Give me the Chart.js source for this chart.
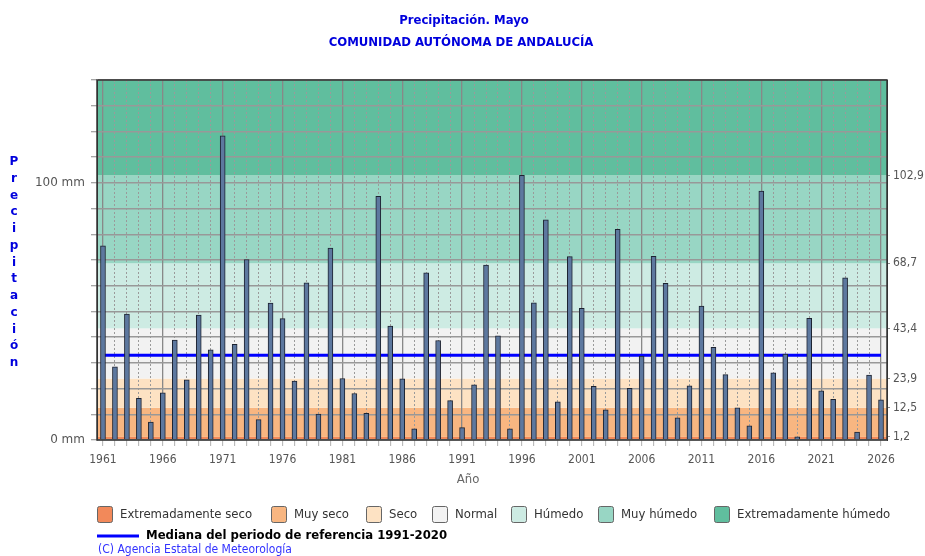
<!DOCTYPE html>
<html>
<head>
<meta charset="utf-8">
<script src="https://cdn.jsdelivr.net/npm/chart.js@4"></script>
<style>
  html, body { margin: 0; background: #fff; }
</style>
</head>
<body>
<canvas id="chart" width="925" height="556"></canvas>
<script>
// Datos: precipitación de mayo, Andalucía (mm)
const years = [1961, 1962, 1963, 1964, 1965, 1966, 1967, 1968, 1969, 1970,
  1971, 1972, 1973, 1974, 1975, 1976, 1977, 1978, 1979, 1980,
  1981, 1982, 1983, 1984, 1985, 1986, 1987, 1988, 1989, 1990,
  1991, 1992, 1993, 1994, 1995, 1996, 1997, 1998, 1999, 2000,
  2001, 2002, 2003, 2004, 2005, 2006, 2007, 2008, 2009, 2010,
  2011, 2012, 2013, 2014, 2015, 2016, 2017, 2018, 2019, 2020,
  2021, 2022, 2023, 2024, 2025, 2026];
const precip = [75.5, 28.5, 49.0, 16.2, 7.0, 18.3, 38.9, 23.4, 48.6, 35.1,
  118.3, 37.2, 70.2, 7.9, 53.2, 47.2, 22.9, 61.1, 10.1, 74.6,
  23.9, 18.1, 10.4, 94.8, 44.3, 23.8, 4.3, 65.0, 38.7, 15.3,
  4.8, 21.5, 68.0, 40.5, 4.3, 102.9, 53.3, 85.6, 14.8, 71.3,
  51.2, 20.9, 11.7, 81.9, 20.1, 32.6, 71.4, 60.9, 8.6, 21.1,
  52.1, 36.0, 25.4, 12.5, 5.5, 96.8, 26.1, 33.4, 1.2, 47.3,
  19.1, 15.8, 63.1, 3.1, 25.2, 15.6];
const median = 33.0;
const thresholds = [1.2, 12.5, 23.9, 43.4, 68.7, 102.9];
const categories = ["Extremadamente seco", "Muy seco", "Seco", "Normal", "Húmedo", "Muy húmedo", "Extremadamente húmedo"];
const catColors = ["#f2895a", "#f8b681", "#fde2c3", "#f2f2f2", "#cdebe3", "#98d6c4", "#60be9e"];
const xTicks = [1961, 1966, 1971, 1976, 1981, 1986, 1991, 1996, 2001, 2006, 2011, 2016, 2021, 2026];

const yMax = 140;
const fontNarrow = "'Liberation Sans Narrow', 'DejaVu Sans Condensed', sans-serif";

// fondo por categorias, rejilla encima
const bandsPlugin = {
  id: "bands",
  beforeDraw(chart) {
    const { ctx, chartArea: a, scales } = chart;
    ctx.save();
    ctx.fillStyle = "#fff";
    ctx.fillRect(0, 0, chart.width, chart.height);
    const limits = [0, ...thresholds, yMax];
    for (let i = 0; i < catColors.length; i++) {
      const y0 = scales.y.getPixelForValue(limits[i]);
      const y1 = scales.y.getPixelForValue(limits[i + 1]);
      ctx.fillStyle = catColors[i];
      ctx.fillRect(a.left, y1, a.right - a.left, y0 - y1);
    }
    ctx.restore();
  },
  afterDraw(chart) {
    const { ctx, chartArea: a } = chart;
    ctx.save();
    // marco
    ctx.strokeStyle = "#333";
    ctx.lineWidth = 1.5;
    ctx.strokeRect(a.left, a.top, a.right - a.left, a.bottom - a.top);

    // titulos
    ctx.fillStyle = "#0000dd";
    ctx.textAlign = "center";
    ctx.textBaseline = "middle";
    ctx.font = "bold 13px " + fontNarrow;
    ctx.fillText("Precipitación. Mayo", 464, 21);
    ctx.fillText("COMUNIDAD AUTÓNOMA DE ANDALUCÍA", 461, 43);

    // titulo eje y en vertical, letra a letra
    ctx.font = "bold 12px 'DejaVu Sans', sans-serif";
    const word = "Precipitación";
    for (let i = 0; i < word.length; i++) {
      ctx.fillText(word[i], 14, 162 + i * 16.75);
    }

    // titulo eje x
    ctx.fillStyle = "#666";
    ctx.font = "13px " + fontNarrow;
    ctx.fillText("Año", 468, 480);

    // leyenda
    const boxX = [97, 271, 366, 432, 511, 598, 714];
    ctx.textAlign = "left";
    ctx.font = "13px " + fontNarrow;
    for (let i = 0; i < categories.length; i++) {
      ctx.fillStyle = catColors[i];
      ctx.strokeStyle = "#666";
      ctx.lineWidth = 1;
      ctx.beginPath();
      ctx.roundRect(boxX[i] + 0.5, 506.5, 15, 16, 2);
      ctx.fill();
      ctx.stroke();
      ctx.fillStyle = "#333";
      ctx.fillText(categories[i], boxX[i] + 23, 515);
    }
    ctx.strokeStyle = "#0000ff";
    ctx.lineWidth = 3;
    ctx.beginPath();
    ctx.moveTo(97, 536);
    ctx.lineTo(139, 536);
    ctx.stroke();
    ctx.fillStyle = "#000";
    ctx.font = "bold 13px " + fontNarrow;
    ctx.fillText("Mediana del periodo de referencia 1991-2020", 146, 536);
    ctx.fillStyle = "#3333ff";
    ctx.font = "12px " + fontNarrow;
    ctx.fillText("(C) Agencia Estatal de Meteorología", 98, 550);
    ctx.restore();
  }
};

const allYearTicks = (scale) => {
  scale.ticks = years.map(v => ({ value: v }));
};

new Chart(document.getElementById("chart"), {
  type: "bar",
  data: {
    datasets: [
      {
        type: "line",
        label: "Mediana del periodo de referencia 1991-2020",
        data: [{ x: years[0], y: median }, { x: years[years.length - 1], y: median }],
        borderColor: "#0000ff",
        borderWidth: 3,
        pointRadius: 0,
        order: 1
      },
      {
        type: "bar",
        label: "Precipitación",
        data: years.map((y, i) => ({ x: y, y: precip[i] })),
        backgroundColor: "#5d789f",
        borderColor: "#1c2230",
        borderWidth: 1,
        barThickness: 5,
        order: 0
      }
    ]
  },
  plugins: [bandsPlugin],
  options: {
    responsive: false,
    animation: false,
    layout: { padding: { top: 80, left: 0, right: 0, bottom: 0 } },
    plugins: {
      legend: { display: false },
      tooltip: { enabled: false }
    },
    scales: {
      x: {
        type: "linear",
        min: 1960.5,
        max: 2026.5,
        offset: false,
        weight: 1,
        afterBuildTicks: allYearTicks,
        afterFit: s => { s.height = 116; },
        grid: {
          color: c => (c.tick && (c.tick.value - 1961) % 5 === 0 ? "#888" : "rgba(0,0,0,0)"),
          lineWidth: 1.3,
          tickColor: "#b0b0b0",
          tickWidth: 1,
          tickLength: 6,
          offset: false
        },
        border: { display: false },
        ticks: {
          autoSkip: false,
          maxRotation: 0,
          padding: 7,
          color: "#555",
          font: { size: 12, family: fontNarrow },
          callback: v => (xTicks.includes(v) ? String(v) : "")
        }
      },
      x2: {
        type: "linear",
        position: "bottom",
        min: 1960.5,
        max: 2026.5,
        offset: false,
        weight: 0,
        afterBuildTicks: allYearTicks,
        afterFit: s => { s.height = 0; },
        grid: {
          color: c => (c.tick && (c.tick.value - 1961) % 5 === 0 ? "rgba(0,0,0,0)" : "#9a9a9a"),
          drawTicks: false,
          offset: false
        },
        border: { display: false, dash: [2, 2] },
        ticks: { display: false }
      },
      y: {
        min: 0,
        max: yMax,
        position: "left",
        afterFit: s => { s.width = 97; },
        grid: { color: "#989898", lineWidth: 1.5, tickColor: "#888", tickWidth: 1, tickLength: 6 },
        border: { color: "#333" },
        ticks: {
          stepSize: 10,
          padding: 6,
          color: "#555",
          font: { size: 12, family: "'DejaVu Sans', sans-serif" },
          callback: v => (v === 0 || v === 100 ? v + " mm" : "")
        }
      },
      y2: {
        min: 0,
        max: yMax,
        position: "right",
        afterBuildTicks: s => { s.ticks = thresholds.map(v => ({ value: v })); },
        afterFit: s => { s.width = 38; },
        grid: { drawOnChartArea: false, tickLength: 3, tickColor: "#888" },
        border: { color: "#333" },
        ticks: {
          padding: 3,
          color: "#555",
          font: { size: 12, family: fontNarrow },
          callback: v => v.toFixed(1).replace(".", ",")
        }
      }
    }
  }
});
</script>
</body>
</html>
